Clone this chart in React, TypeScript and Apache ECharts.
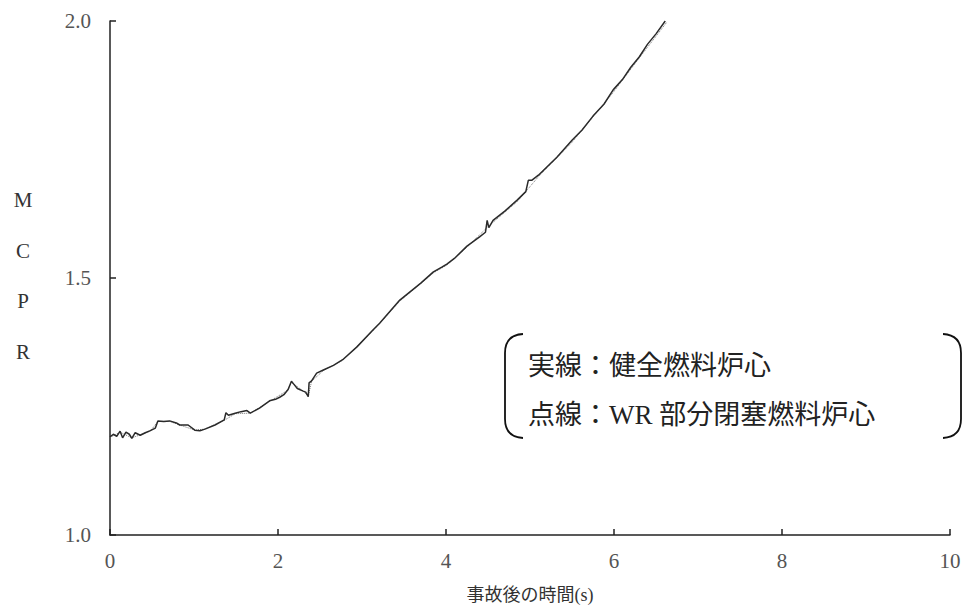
import React, { useEffect, useRef } from "react";
import * as echarts from "echarts";

// 時間 (s) と MCPR — 実線：健全燃料炉心
const solidTime = [
  0, 0.04, 0.08, 0.12, 0.15, 0.19, 0.23, 0.26, 0.3, 0.36, 0.42, 0.48, 0.54, 0.57, 0.64, 0.71, 0.79, 0.83,
  0.93, 1.01, 1.07, 1.13, 1.25, 1.36, 1.38, 1.41, 1.49, 1.56, 1.63, 1.67, 1.78, 1.9, 1.97, 2.02, 2.07, 2.12,
  2.16, 2.19, 2.23, 2.3, 2.33, 2.36, 2.37, 2.4, 2.46, 2.54, 2.66, 2.77, 2.94, 3.13, 3.21, 3.45, 3.7, 3.85,
  3.95, 4.01, 4.1, 4.25, 4.4, 4.47, 4.49, 4.51, 4.56, 4.7, 4.85, 4.95, 4.98, 5.02, 5.1, 5.32, 5.5, 5.62,
  5.75, 5.88, 5.99, 6.1, 6.2, 6.3, 6.4, 6.5, 6.61,
];
const solidMcpr = [
  1.191, 1.196, 1.192, 1.202, 1.189, 1.2, 1.196, 1.188, 1.199, 1.194, 1.199, 1.203, 1.208, 1.222, 1.221,
  1.222, 1.218, 1.214, 1.214, 1.204, 1.203, 1.206, 1.214, 1.224, 1.238, 1.233, 1.237, 1.24, 1.242, 1.237,
  1.247, 1.261, 1.264, 1.268, 1.273, 1.283, 1.299, 1.293, 1.285, 1.28, 1.278, 1.269, 1.296, 1.3, 1.315,
  1.321, 1.33, 1.341, 1.366, 1.399, 1.412, 1.457, 1.49, 1.512, 1.521, 1.527, 1.538, 1.562, 1.58, 1.589,
  1.612, 1.598, 1.612, 1.63, 1.652, 1.668, 1.69, 1.69, 1.7, 1.735, 1.768, 1.788, 1.815, 1.838, 1.866,
  1.886, 1.91, 1.93, 1.955, 1.975, 2.0,
];

// 点線：WR 部分閉塞燃料炉心
const dottedTime = [
  0, 0.12, 0.26, 0.48, 0.57, 0.71, 0.83, 1.01, 1.13, 1.36, 1.49, 1.67, 1.9, 2.12, 2.16, 2.3, 2.36, 2.4,
  2.54, 2.77, 3.13, 3.45, 3.85, 4.01, 4.25, 4.5, 4.85, 5.1, 5.5, 5.99, 6.3, 6.63,
];
const dottedMcpr = [
  1.19, 1.2, 1.189, 1.202, 1.221, 1.221, 1.214, 1.204, 1.206, 1.223, 1.236, 1.237, 1.26, 1.282, 1.297,
  1.28, 1.27, 1.299, 1.32, 1.34, 1.397, 1.455, 1.51, 1.525, 1.56, 1.6, 1.649, 1.697, 1.764, 1.861, 1.928,
  1.998,
];

const xTicks = [0, 2, 4, 6, 8, 10];
const yTicks = [1.0, 1.5, 2.0];
const legendLines = ["実線：健全燃料炉心", "点線：WR 部分閉塞燃料炉心"];
const yNameLetters = ["M", "C", "P", "R"];

const SERIF = "'Liberation Serif', 'DejaVu Serif', 'Noto Sans CJK JP', serif";

echarts.graphic.registerShape(
  "bracketL",
  echarts.graphic.extendPath("M 523 334 Q 505 335 505 353 L 505 419 Q 505 437 523 438", {})
);
echarts.graphic.registerShape(
  "bracketR",
  echarts.graphic.extendPath("M 943 334 Q 961 335 961 353 L 961 419 Q 961 437 943 438", {})
);

export default function App() {
  const ref = useRef<HTMLDivElement>(null);
  useEffect(() => {
    if (!ref.current) return;
    const chart = echarts.init(ref.current, undefined, { renderer: "svg" });
    const solid = solidTime.map((t, i) => [t, solidMcpr[i]]);
    const dotted = dottedTime.map((t, i) => [t, dottedMcpr[i]]);
    const axisLine = { show: true, lineStyle: { color: "#222", width: 1.5 } };
    const axisTick = { show: true, inside: true, length: 6, lineStyle: { color: "#222", width: 1.5 } };
    chart.setOption({
      animation: false,
      backgroundColor: "#fff",
      grid: { left: 110, right: 19, top: 21, bottom: 77, containLabel: false },
      xAxis: {
        type: "value",
        min: 0,
        max: 10,
        interval: 2,
        axisLine,
        axisTick,
        splitLine: { show: false },
        axisLabel: {
          color: "#555",
          fontSize: 21,
          fontFamily: SERIF,
          margin: 15,
          formatter: (v: number) => (xTicks.includes(v) ? String(v) : ""),
        },
        name: "事故後の時間(s)",
        nameLocation: "middle",
        nameGap: 51,
        nameTextStyle: { color: "#333", fontSize: 18, fontFamily: SERIF },
      },
      yAxis: {
        type: "value",
        min: 1.0,
        max: 2.0,
        interval: 0.5,
        axisLine,
        axisTick,
        splitLine: { show: false },
        axisLabel: {
          color: "#555",
          fontSize: 21,
          fontFamily: SERIF,
          margin: 19,
          formatter: (v: number) => (yTicks.some((t) => Math.abs(t - v) < 1e-9) ? v.toFixed(1) : ""),
        },
      },
      graphic: [
        ...yNameLetters.map((ch, i) => ({
          type: "text",
          x: 23,
          y: 200 + i * 50.7,
          style: {
            text: ch,
            fill: "#333",
            font: `21px ${SERIF}`,
            align: "center",
            verticalAlign: "middle",
          },
        })),
        { type: "bracketL", x: 0, y: 0, style: { stroke: "#111", lineWidth: 1.8, fill: null } },
        { type: "bracketR", x: 0, y: 0, style: { stroke: "#111", lineWidth: 1.8, fill: null } },
        ...legendLines.map((txt, i) => ({
          type: "text",
          x: 528,
          y: 366 + i * 49,
          style: { text: txt, fill: "#222", font: `27px ${SERIF}`, verticalAlign: "middle" },
        })),
      ],
      series: [
        {
          name: "点線：WR 部分閉塞燃料炉心",
          type: "line",
          data: dotted,
          showSymbol: false,
          symbol: "none",
          lineStyle: { color: "#777", width: 1, type: "dotted" },
          z: 1,
        },
        {
          name: "実線：健全燃料炉心",
          type: "line",
          data: solid,
          showSymbol: false,
          symbol: "none",
          lineStyle: { color: "#2a2a2a", width: 1.5 },
          z: 2,
        },
      ],
    });
    return () => chart.dispose();
  }, []);
  return (
    <div
      ref={ref}
      style={{ position: "fixed", left: 0, top: 0, width: 969, height: 612, background: "#fff" }}
    />
  );
}
